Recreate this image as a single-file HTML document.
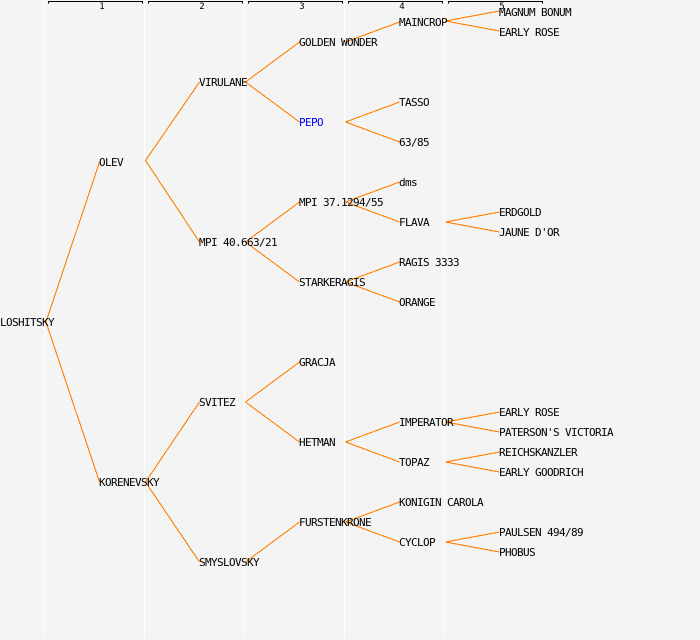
<!DOCTYPE html>
<html>
<head>
<meta charset="utf-8">
<style>
html,body{margin:0;padding:0;background:#f4f4f4;width:700px;height:640px;overflow:hidden}
svg{display:block}
text{font-family:"DejaVu Sans Mono",monospace;font-size:11px;letter-spacing:-.62px;fill:#000}
.n{font-size:9px;letter-spacing:0;text-anchor:middle}
</style>
</head>
<body>
<svg width="700" height="640" viewBox="0 0 700 640" xmlns="http://www.w3.org/2000/svg">
<rect width="700" height="640" fill="#f4f4f4"/>
<g fill="#fff" shape-rendering="crispEdges">
<rect x="44" y="0" width="1" height="638"/>
<rect x="144" y="0" width="1" height="638"/>
<rect x="244" y="0" width="1" height="638"/>
<rect x="344" y="0" width="1" height="638"/>
<rect x="444" y="0" width="1" height="638"/>
</g>
<g fill="none" stroke="#000" shape-rendering="crispEdges">
<path d="M48.500 3.500V1.500H142.500V3.500"/>
<path d="M148.500 3.500V1.500H242.500V3.500"/>
<path d="M248.500 3.500V1.500H342.500V3.500"/>
<path d="M348.500 3.500V1.500H442.500V3.500"/>
<path d="M448.500 3.500V1.500H542.500V3.500"/>
</g>
<text class="n" x="102" y="9">1</text>
<text class="n" x="202" y="9">2</text>
<text class="n" x="302" y="9">3</text>
<text class="n" x="402" y="9">4</text>
<text class="n" x="502" y="9">5</text>
<g fill="none" stroke="#ff8000" stroke-width="1.1" shape-rendering="crispEdges">
<path d="M46 322L99.500 162M46 322L99.500 482"/>
<path d="M145.500 160.500L199.500 82M145.500 160.500L199.500 242"/>
<path d="M145.500 482L199.500 402M145.500 482L199.500 562"/>
<path d="M245.500 82L299.500 42M245.500 82L299.500 122"/>
<path d="M245.500 242L299.500 202M245.500 242L299.500 282"/>
<path d="M245.500 402L299.500 362M245.500 402L299.500 442"/>
<path d="M245.500 562L299.500 522"/>
<path d="M345.500 42L399.500 22"/>
<path d="M345.500 122L399.500 102M345.500 122L399.500 142"/>
<path d="M345.500 202L399.500 182M345.500 202L399.500 222"/>
<path d="M345.500 282L399.500 262M345.500 282L399.500 302"/>
<path d="M345.500 442L399.500 422M345.500 442L399.500 462"/>
<path d="M345.500 522L399.500 502M345.500 522L399.500 542"/>
<path d="M445.500 21L499.500 11M445.500 21L499.500 31"/>
<path d="M445.500 222L499.500 212M445.500 222L499.500 232"/>
<path d="M445.500 422L499.500 412M445.500 422L499.500 432"/>
<path d="M445.500 462L499.500 452M445.500 462L499.500 472"/>
<path d="M445.500 542L499.500 532M445.500 542L499.500 552"/>
</g>
<text x="0" y="326">LOSHITSKY</text>
<text x="99" y="166">OLEV</text>
<text x="99" y="486">KORENEVSKY</text>
<text x="199" y="86">VIRULANE</text>
<text x="199" y="246">MPI 40.663/21</text>
<text x="199" y="406">SVITEZ</text>
<text x="199" y="566">SMYSLOVSKY</text>
<text x="299" y="46">GOLDEN WONDER</text>
<text x="299" y="126" style="fill:#0000ff">PEPO</text>
<text x="299" y="206">MPI 37.1294/55</text>
<text x="299" y="286">STARKERAGIS</text>
<text x="299" y="366">GRACJA</text>
<text x="299" y="446">HETMAN</text>
<text x="299" y="526">FURSTENKRONE</text>
<text x="399" y="26">MAINCROP</text>
<text x="399" y="106">TASSO</text>
<text x="399" y="146">63/85</text>
<text x="399" y="186">dms</text>
<text x="399" y="226">FLAVA</text>
<text x="399" y="266">RAGIS 3333</text>
<text x="399" y="306">ORANGE</text>
<text x="399" y="426">IMPERATOR</text>
<text x="399" y="466">TOPAZ</text>
<text x="399" y="506">KONIGIN CAROLA</text>
<text x="399" y="546">CYCLOP</text>
<text x="499" y="16">MAGNUM BONUM</text>
<text x="499" y="36">EARLY ROSE</text>
<text x="499" y="216">ERDGOLD</text>
<text x="499" y="236">JAUNE D'OR</text>
<text x="499" y="416">EARLY ROSE</text>
<text x="499" y="436">PATERSON'S VICTORIA</text>
<text x="499" y="456">REICHSKANZLER</text>
<text x="499" y="476">EARLY GOODRICH</text>
<text x="499" y="536">PAULSEN 494/89</text>
<text x="499" y="556">PHOBUS</text>
</svg>
</body>
</html>
